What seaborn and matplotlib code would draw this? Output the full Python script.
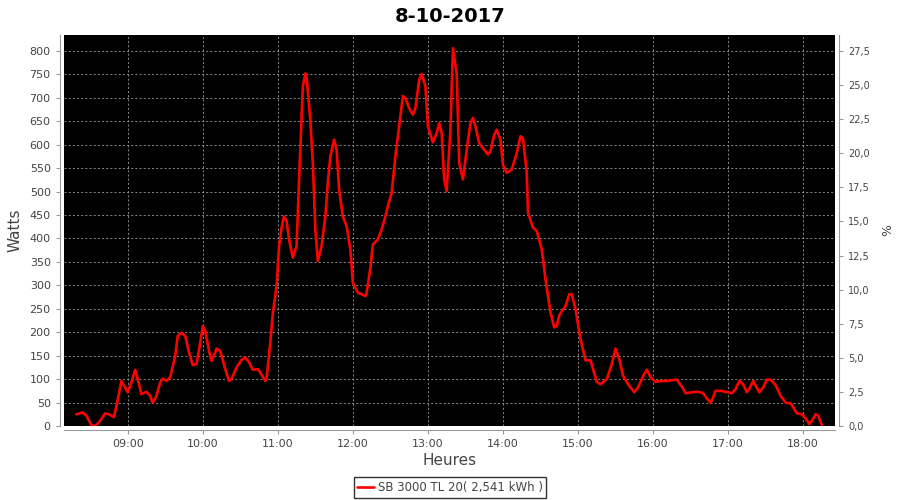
import pandas as pd
import seaborn as sns
import matplotlib.pyplot as plt
from matplotlib.ticker import FuncFormatter, MultipleLocator

# ========== Data ==========
heures = [
    "08:19", "08:24", "08:27", "08:31", "08:34", "08:38", "08:42", "08:45", "08:49", "08:51",
    "08:55", "08:58", "09:00", "09:03", "09:06", "09:08", "09:11", "09:15", "09:18", "09:20",
    "09:23", "09:26", "09:28", "09:31", "09:34", "09:38", "09:40", "09:43", "09:46", "09:49",
    "09:52", "09:55", "09:58", "10:00", "10:02", "10:05", "10:07", "10:10", "10:11", "10:14",
    "10:18", "10:21", "10:23", "10:27", "10:31", "10:34", "10:37", "10:40", "10:44", "10:46",
    "10:50", "10:51", "10:54", "10:56", "10:59", "11:01", "11:03", "11:05", "11:07", "11:09",
    "11:12", "11:15", "11:17", "11:20", "11:22", "11:23", "11:26", "11:28", "11:30", "11:32",
    "11:35", "11:38", "11:40", "11:42", "11:45", "11:47", "11:49", "11:52", "11:55", "11:58",
    "12:00", "12:04", "12:07", "12:10", "12:11", "12:14", "12:16", "12:20", "12:23", "12:26",
    "12:28", "12:31", "12:34", "12:38", "12:40", "12:42", "12:45", "12:48", "12:50", "12:53",
    "12:55", "12:58", "13:00", "13:04", "13:07", "13:09", "13:11", "13:13", "13:15", "13:18",
    "13:20", "13:23", "13:25", "13:28", "13:31", "13:34", "13:36", "13:38", "13:41", "13:46",
    "13:48", "13:50", "13:53", "13:55", "13:58", "14:00", "14:03", "14:07", "14:11", "14:14",
    "14:16", "14:19", "14:20", "14:24", "14:27", "14:31", "14:34", "14:38", "14:41", "14:43",
    "14:45", "14:50", "14:53", "14:55", "14:58", "15:02", "15:06", "15:10", "15:15", "15:18",
    "15:23", "15:27", "15:30", "15:33", "15:36", "15:40", "15:45", "15:48", "15:52", "15:55",
    "15:58", "16:02", "16:06", "16:11", "16:19", "16:23", "16:26", "16:31", "16:36", "16:40",
    "16:43", "16:46", "16:48", "16:50", "16:54", "16:58", "17:03", "17:06", "17:09", "17:12",
    "17:15", "17:17", "17:20", "17:22", "17:25", "17:28", "17:31", "17:34", "17:38", "17:42",
    "17:46", "17:50", "17:52", "17:55", "17:59", "18:02", "18:05", "18:07", "18:10", "18:12",
    "18:15",
]
watts = [
    25, 29, 22, 2, 0, 11, 27, 25, 19, 43,
    96, 82, 72, 93, 120, 100, 68, 73, 64, 49,
    64, 93, 101, 96, 104, 150, 192, 199, 192, 157,
    130, 132, 178, 213, 203, 160, 139, 157, 165, 160,
    121, 96, 100, 125, 141, 146, 136, 120, 121, 114,
    96, 100, 178, 240, 298, 384, 423, 447, 437, 398,
    359, 384, 526, 724, 752, 745, 653, 561, 419, 352,
    384, 447, 519, 575, 611, 589, 504, 447, 426, 377,
    306, 284, 281, 277, 284, 337, 387, 398, 419, 447,
    469, 497, 575, 660, 704, 699, 678, 664, 678, 738,
    751, 724, 639, 605, 625, 646, 625, 526, 501, 632,
    806, 752, 561, 526, 589, 646, 657, 639, 603, 586,
    579, 586, 621, 632, 611, 557, 540, 547, 582, 618,
    614, 540, 455, 423, 416, 377, 313, 242, 210, 213,
    236, 256, 281, 281, 249, 185, 140, 140, 94, 89,
    100, 132, 165, 143, 107, 89, 72, 82, 106, 120,
    104, 94, 96, 96, 99, 84, 70, 72, 73, 70,
    59, 49, 61, 75, 75, 73, 70, 79, 96, 89,
    72, 80, 96, 86, 72, 82, 99, 99, 87, 64,
    50, 48, 40, 27, 25, 16, 4, 11, 25, 22,
    2,
]
x_ticks = ["09:00", "10:00", "11:00", "12:00", "13:00", "14:00", "15:00", "16:00", "17:00", "18:00"]
serie = "SB 3000 TL 20( 2,541 kWh )"

df = pd.DataFrame({"Heure": heures, "Watts": watts})
df["h"] = pd.to_timedelta(df["Heure"] + ":00").dt.total_seconds() / 3600
tick_pos = pd.to_timedelta(pd.Series(x_ticks) + ":00").dt.total_seconds() / 3600

sns.set_style("ticks")
plt.rcParams["font.family"] = ["DejaVu Sans"]

grey = "#444444"
axis_grey = "#999999"
fig = plt.figure(figsize=(9, 5), dpi=100)
ax = fig.add_axes([0.071, 0.148, 0.857, 0.782])
ax.set_facecolor("black")

sns.lineplot(data=df, x="h", y="Watts", color="red", lw=1.9, ax=ax, label=serie)

ax.set_xlim(8 + 9 / 60, 18 + 25.6 / 60)
ax.set_ylim(0, 834)
ax.set_xticks(tick_pos)
ax.set_xticklabels(x_ticks)
ax.yaxis.set_major_locator(MultipleLocator(50))
ax.grid(True, color="#999999", linestyle=(0, (2.5, 2.5)), linewidth=0.6)
ax.tick_params(colors=axis_grey, labelcolor=grey, labelsize=8, length=3)
ax.set_xlabel("Heures", fontsize=11, color=grey, labelpad=3)
ax.set_ylabel("Watts", fontsize=11, color=grey, labelpad=5)

# right axis in %
ax2 = ax.twinx()
ax2.set_ylim(0, 834 * 27.5 / 800)
ax2.yaxis.set_major_locator(MultipleLocator(2.5))
ax2.yaxis.set_major_formatter(FuncFormatter(lambda v, p: f"{v:.1f}".replace(".", ",")))
ax2.tick_params(colors=axis_grey, labelcolor=grey, labelsize=7, length=3)
ax2.set_ylabel("%", fontsize=9, color=grey, labelpad=8)

# JFreeChart style: axes detached from the plot area, no outline
for a in (ax, ax2):
    for name, s in a.spines.items():
        s.set_color(axis_grey)
        if name == "top":
            s.set_visible(False)
        else:
            s.set_position(("outward", 3))
ax.spines["right"].set_visible(False)
ax2.spines["left"].set_visible(False)
ax2.spines["bottom"].set_visible(False)

ax.get_legend().remove()
handles, labels = ax.get_legend_handles_labels()
leg = fig.legend(handles, labels, loc="center", bbox_to_anchor=(0.5, 0.025), fontsize=8.5,
                 frameon=True, fancybox=False, edgecolor="black", handlelength=1.4,
                 handletextpad=0.3, borderpad=0.3, borderaxespad=0)
leg.get_frame().set_linewidth(1)
for t in leg.get_texts():
    t.set_color(grey)

fig.suptitle("8-10-2017", fontsize=14, fontweight="bold", color="black", y=0.985)
fig.savefig("out.png", dpi=100)
